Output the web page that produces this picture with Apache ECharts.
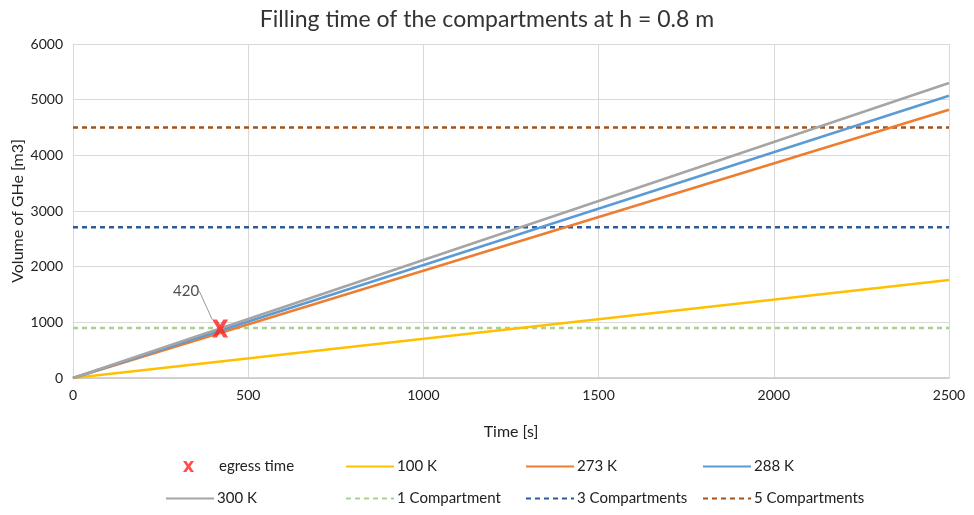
<!DOCTYPE html>
<html>
<head>
<meta charset="utf-8">
<script src="https://cdn.jsdelivr.net/npm/echarts@6/dist/echarts.min.js"></script>
<style>html,body{margin:0;padding:0;background:#fff}#chart{width:974px;height:515px}</style>
</head>
<body>
<div id="chart"></div>
<script>
const timePoints = [0, 2500];
const vol100K = [0, 1760];
const vol273K = [0, 4820];
const vol288K = [0, 5070];
const vol300K = [0, 5300];
const comp1 = [900, 900];
const comp3 = [2710, 2710];
const comp5 = [4500, 4500];
const egressTime = [420];
const egressVolume = [890];
const xTicks = [0, 500, 1000, 1500, 2000, 2500];
const yTicks = [0, 1000, 2000, 3000, 4000, 5000, 6000];

const FONT = "Lato, 'Noto Sans', sans-serif";
const XPATH = 'path://M0,0 L3,0 L5,3 L7,0 L10,0 L6.6,5 L10,10 L7,10 L5,7 L3,10 L0,10 L3.4,5 Z';

function pairs(xs, ys) { return xs.map((x, i) => [x, ys[i]]); }

function lineSeries(name, ys, color, dashed) {
  return {
    name: name, type: 'line', data: pairs(timePoints, ys),
    symbol: 'none', showSymbol: false, silent: true,
    lineStyle: { color: color, width: 2.5, type: dashed ? [5, 4] : 'solid' },
    itemStyle: { color: color }
  };
}

const series = [
  lineSeries('1 Compartment', comp1, '#A9D18E', true),
  lineSeries('3 Compartments', comp3, '#2E5B9A', true),
  lineSeries('5 Compartments', comp5, '#A5511C', true),
  lineSeries('100 K', vol100K, '#FFC000', false),
  lineSeries('273 K', vol273K, '#ED7D31', false),
  lineSeries('288 K', vol288K, '#5B9BD5', false),
  lineSeries('300 K', vol300K, '#A5A5A5', false),
  {
    name: 'egress time', type: 'scatter', z: 10,
    data: pairs(egressTime, egressVolume),
    symbol: XPATH, symbolSize: [16, 18],
    itemStyle: { color: '#FF2020' },
    label: { show: true, formatter: p => String(p.value[0]), fontFamily: FONT, fontSize: 15, color: '#222', position: 'top' },
    labelLayout: { dx: -34, dy: -16 },
    labelLine: { show: true, lineStyle: { color: '#999', width: 1 } }
  }
];

const legendSpec = [
  ['egress time', 183, 459, 11, 13],
  ['100 K', 345, 459, 48, 14],
  ['273 K', 525, 459, 48, 14],
  ['288 K', 702, 459, 48, 14],
  ['300 K', 165, 491, 48, 14],
  ['1 Compartment', 345, 491, 48, 14],
  ['3 Compartments', 525, 491, 48, 14],
  ['5 Compartments', 702, 491, 48, 14]
];
const legends = legendSpec.map(s => {
  const isMarker = s[0] === 'egress time';
  const l = {
    data: [s[0]], left: s[1], top: s[2], itemWidth: s[3], itemHeight: s[4],
    itemGap: 0, padding: 0, selectedMode: false,
    textStyle: { fontFamily: FONT, fontSize: 15, color: '#222', padding: [0, 0, 0, isMarker ? 20 : -2] }
  };
  if (!isMarker) l.itemStyle = { opacity: 0 };
  return l;
});

const chart = echarts.init(document.getElementById('chart'));
chart.setOption({
  animation: false,
  backgroundColor: '#fff',
  title: {
    text: 'Filling time of the compartments at h = 0.8 m',
    left: 'center', top: 3,
    textStyle: { fontFamily: FONT, fontSize: 23, fontWeight: 'normal', color: '#333' }
  },
  legend: legends,
  grid: { left: 73, right: 25, top: 44, bottom: 137, outerBoundsMode: 'none' },
  xAxis: {
    type: 'value', min: 0, max: 2500, interval: 500,
    name: 'Time [s]', nameLocation: 'middle', nameGap: 46,
    nameTextStyle: { fontFamily: FONT, fontSize: 16, color: '#222' },
    axisLine: { show: true, lineStyle: { color: '#c8c8c8', width: 1.5 } },
    axisTick: { show: false },
    axisLabel: { fontFamily: FONT, fontSize: 14, color: '#222', margin: 10, customValues: xTicks, formatter: v => String(v) },
    splitLine: { show: true, lineStyle: { color: '#d9d9d9', width: 1 } }
  },
  yAxis: {
    type: 'value', min: 0, max: 6000, interval: 1000,
    name: 'Volume of GHe [m3]', nameLocation: 'middle', nameGap: 47, nameRotate: 90,
    nameMoveOverlap: false,
    nameTextStyle: { fontFamily: FONT, fontSize: 16, color: '#222' },
    axisLine: { show: true, lineStyle: { color: '#d9d9d9', width: 1 } },
    axisTick: { show: false },
    axisLabel: { fontFamily: FONT, fontSize: 14, color: '#222', margin: 10, customValues: yTicks, formatter: v => String(v) },
    splitLine: { show: true, lineStyle: { color: '#d9d9d9', width: 1 } }
  },
  series: series
});
</script>
</body>
</html>
